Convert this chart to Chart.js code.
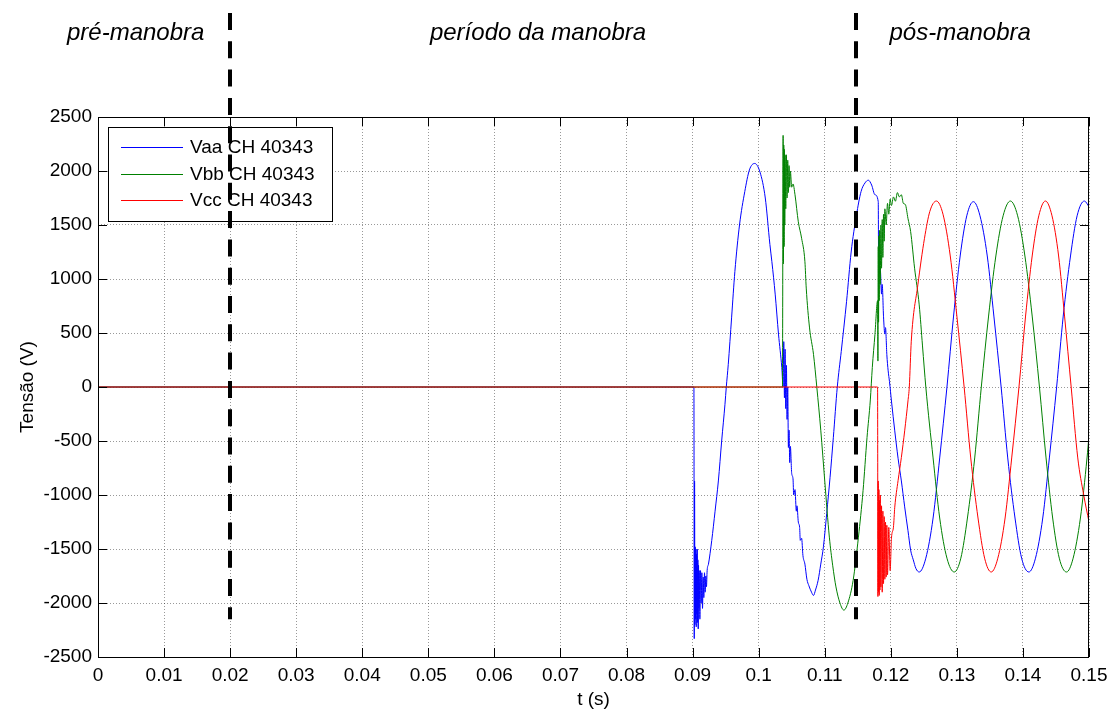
<!DOCTYPE html>
<html>
<head>
<meta charset="utf-8">
<script src="https://cdn.jsdelivr.net/npm/chart.js@4.4.0/dist/chart.umd.min.js"></script>
<style>
  html, body { margin: 0; padding: 0; background: #fff; }
  #wrap { width: 1108px; height: 711px; }
</style>
</head>
<body>
<div id="wrap"><canvas id="tensaoChart" width="1108" height="711"></canvas></div>
<script>
// tempo (s) / tensao (V)
var tVaa = [0, 0.0902, 0.09025, 0.0903, 0.09035, 0.0904, 0.09045, 0.0905, 0.09055, 0.0906, 0.09065, 0.0907, 0.09075, 0.0908, 0.09085, 0.0909, 0.09095, 0.0910, 0.0911, 0.0912, 0.0913, 0.0914, 0.0915, 0.0916, 0.0917, 0.0918, 0.0919, 0.0920, 0.0921, 0.0922, 0.0924, 0.0929, 0.0934, 0.0939, 0.0944, 0.0949, 0.0951, 0.0954, 0.0959, 0.0964, 0.0971, 0.0979, 0.0986, 0.0994, 0.1002, 0.1010, 0.1017, 0.1020, 0.1025, 0.1030, 0.1035, 0.1037, 0.1038, 0.1039, 0.1040, 0.1041, 0.1042, 0.1043, 0.1044, 0.1045, 0.1046, 0.1047, 0.1048, 0.1050, 0.1052, 0.1053, 0.1055, 0.1057, 0.1058, 0.1060, 0.1062, 0.1063, 0.1065, 0.1067, 0.1070, 0.1073, 0.1076, 0.1080, 0.1083, 0.1086, 0.1090, 0.1094, 0.1098, 0.1103, 0.1108, 0.1113, 0.1119, 0.1125, 0.1133, 0.1140, 0.1148, 0.1155, 0.1161, 0.1166, 0.1171, 0.1176, 0.1181, 0.11815, 0.1182, 0.1183, 0.1184, 0.1186, 0.1187, 0.1189, 0.1191, 0.1192, 0.1194, 0.1196, 0.1198, 0.1201, 0.1206, 0.1211, 0.1216, 0.1221, 0.1226, 0.1230, 0.1234, 0.1238, 0.1243, 0.1253, 0.1264, 0.1274, 0.1285, 0.1295, 0.1305, 0.1315, 0.1325, 0.1335, 0.1346, 0.1356, 0.1367, 0.1377, 0.1388, 0.1398, 0.1409, 0.1419, 0.1430, 0.1440, 0.1451, 0.1461, 0.1472, 0.1482, 0.1493, 0.1500];
var vVaa = [0, 0, -2330, -870, -2200, -1480, -2150, -1500, -2220, -1550, -2100, -1500, -2180, -1600, -2240, -1650, -2050, -1700, -2150, -1700, -2000, -1720, -2050, -1760, -1950, -1720, -1900, -1750, -1850, -1700, -1640, -1420, -1150, -870, -500, -160, 0, 210, 640, 1070, 1500, 1810, 2010, 2070, 1990, 1750, 1320, 1160, 860, 490, 180, 0, 420, -100, 350, -200, 200, -300, 0, -560, -400, -700, -550, -800, -850, -1000, -950, -1150, -1100, -1250, -1300, -1420, -1400, -1560, -1640, -1780, -1840, -1900, -1930, -1880, -1790, -1640, -1480, -1170, -840, -470, 0, 330, 790, 1250, 1590, 1810, 1890, 1915, 1870, 1780, 1716, 1200, 1350, 1050, 1100, 860, 950, 650, 490, 550, 300, 150, 50, -130, -406, -660, -870, -1110, -1330, -1510, -1600, -1680, -1713, -1585, -1213, -657, 0, 657, 1213, 1585, 1716, 1585, 1213, 657, 0, -657, -1213, -1585, -1713, -1585, -1213, -657, 0, 657, 1213, 1585, 1722, 1670];

var tVbb = [0, 0.1036, 0.1037, 0.10375, 0.1038, 0.10385, 0.1039, 0.10395, 0.1040, 0.1041, 0.1042, 0.1043, 0.1044, 0.1045, 0.1046, 0.1047, 0.1048, 0.1050, 0.1052, 0.1055, 0.1060, 0.1065, 0.1070, 0.1072, 0.1077, 0.1083, 0.1088, 0.1094, 0.1100, 0.1107, 0.1112, 0.1117, 0.1123, 0.1129, 0.1135, 0.1143, 0.1151, 0.1158, 0.1164, 0.1169, 0.1172, 0.1176, 0.1180, 0.11805, 0.1181, 0.11815, 0.1182, 0.11825, 0.1183, 0.1184, 0.1185, 0.1186, 0.1187, 0.1188, 0.1189, 0.1190, 0.1191, 0.1193, 0.1195, 0.1197, 0.1199, 0.1201, 0.1204, 0.1207, 0.1210, 0.1213, 0.1216, 0.1219, 0.1222, 0.1226, 0.1230, 0.1236, 0.1243, 0.1248, 0.1253, 0.1264, 0.1274, 0.1285, 0.1296, 0.1306, 0.1316, 0.1327, 0.1337, 0.1348, 0.1359, 0.1370, 0.1381, 0.1392, 0.1403, 0.1414, 0.1425, 0.1435, 0.1445, 0.1455, 0.1466, 0.1476, 0.1487, 0.1497, 0.1500];
var vVbb = [0, 0, 2330, 1140, 2240, 1300, 2200, 1500, 2150, 1650, 2150, 1750, 2100, 1800, 2050, 1850, 2000, 1850, 1880, 1780, 1530, 1377, 1160, 916, 547, 302, 0, -400, -867, -1390, -1650, -1851, -2000, -2066, -2000, -1790, -1390, -960, -468, -120, 180, 486, 800, 240, 1300, 600, 1400, 800, 1450, 950, 1500, 1100, 1550, 1200, 1600, 1350, 1650, 1500, 1700, 1600, 1740, 1680, 1760, 1720, 1800, 1760, 1780, 1700, 1690, 1560, 1440, 1100, 760, 380, 0, -657, -1213, -1585, -1713, -1585, -1213, -657, 0, 657, 1213, 1585, 1722, 1585, 1213, 657, 0, -657, -1213, -1585, -1713, -1585, -1213, -657, -450];

var tVcc = [0, 0.1180, 0.11805, 0.1181, 0.11815, 0.1182, 0.11825, 0.1183, 0.11835, 0.1184, 0.1185, 0.1186, 0.1187, 0.1188, 0.1189, 0.1190, 0.1191, 0.1192, 0.1193, 0.1194, 0.1195, 0.1197, 0.1199, 0.1201, 0.1204, 0.1206, 0.1211, 0.1216, 0.1221, 0.1226, 0.1228, 0.1231, 0.1241, 0.1251, 0.1259, 0.1269, 0.1279, 0.1290, 0.1300, 0.1311, 0.1321, 0.1332, 0.1342, 0.1352, 0.1362, 0.1373, 0.1383, 0.1394, 0.1404, 0.1414, 0.1424, 0.1434, 0.1444, 0.1454, 0.1463, 0.1473, 0.1483, 0.1492, 0.1500];
var vVcc = [0, 0, -1940, -870, -1900, -950, -1930, -1050, -1880, -1000, -1850, -1100, -1900, -1150, -1820, -1200, -1780, -1250, -1760, -1280, -1740, -1300, -1700, -1400, -1298, -1113, -867, -652, -406, -129, 0, 424, 947, 1377, 1624, 1722, 1600, 1213, 657, 0, -657, -1213, -1585, -1713, -1585, -1213, -657, 0, 657, 1213, 1585, 1722, 1585, 1213, 657, 0, -657, -1000, -1250];

var seriesLabels = ['Vaa CH 40343', 'Vbb CH 40343', 'Vcc CH 40343'];
var seriesColors = ['#0000ff', '#008000', '#ff0000'];
var xTicks = [0, 0.01, 0.02, 0.03, 0.04, 0.05, 0.06, 0.07, 0.08, 0.09, 0.1, 0.11, 0.12, 0.13, 0.14, 0.15];
var yTicks = [-2500, -2000, -1500, -1000, -500, 0, 500, 1000, 1500, 2000, 2500];
var phaseLabels = ['pré-manobra', 'período da manobra', 'pós-manobra'];
var phaseAt = [0.0057, 0.0666, 0.1305];
var switchTimes = [0.02, 0.1147];

var FONT = "'Liberation Sans', Arial, Helvetica, sans-serif";

function pts(t, v) {
    return t.map(function (x, i) { return { x: x, y: v[i] }; });
}

// legenda, linhas tracejadas e moldura estilo matlab
var matlabFrame = {
    id: 'matlabFrame',
    afterDraw: function (chart) {
        var ctx = chart.ctx, a = chart.chartArea;
        var xs = chart.scales.x, ys = chart.scales.y;
        ctx.save();

        // legenda
        var lx = a.left + 10, ly = a.top + 10;
        ctx.fillStyle = '#fff';
        ctx.fillRect(lx, ly, 224, 94);
        ctx.strokeStyle = '#000';
        ctx.lineWidth = 1;
        ctx.strokeRect(lx + 0.5, ly + 0.5, 224, 94);
        ctx.font = '19px ' + FONT;
        ctx.textBaseline = 'middle';
        ctx.textAlign = 'left';
        chart.data.datasets.forEach(function (ds, i) {
            var ry = Math.round(ly + 20 + i * 26.7) + 0.5;
            ctx.strokeStyle = ds.borderColor;
            ctx.beginPath();
            ctx.moveTo(lx + 13, ry);
            ctx.lineTo(lx + 75, ry);
            ctx.stroke();
            ctx.fillStyle = '#000';
            ctx.fillText(ds.label, lx + 82, ry);
        });

        // instantes de manobra
        ctx.strokeStyle = '#000';
        ctx.lineWidth = 4;
        ctx.setLineDash([17, 11.3]);
        switchTimes.forEach(function (t) {
            var px = Math.round(xs.getPixelForValue(t));
            ctx.beginPath();
            ctx.moveTo(px, 13);
            ctx.lineTo(px, ys.getPixelForValue(-2150));
            ctx.stroke();
        });
        ctx.setLineDash([]);

        // moldura com marcas internas
        ctx.lineWidth = 1;
        ctx.strokeStyle = '#000';
        ctx.strokeRect(a.left + 0.5, a.top + 0.5, a.right - a.left - 1, a.bottom - a.top);
        ctx.beginPath();
        xTicks.forEach(function (v) {
            var px = Math.round(xs.getPixelForValue(v)) + 0.5;
            ctx.moveTo(px, a.bottom); ctx.lineTo(px, a.bottom - 9);
            ctx.moveTo(px, a.top); ctx.lineTo(px, a.top + 9);
        });
        yTicks.forEach(function (v) {
            var py = Math.round(ys.getPixelForValue(v)) + 0.5;
            ctx.moveTo(a.left, py); ctx.lineTo(a.left + 9, py);
            ctx.moveTo(a.right, py); ctx.lineTo(a.right - 9, py);
        });
        ctx.stroke();

        // titulos dos periodos
        ctx.fillStyle = '#000';
        ctx.font = 'italic 24px ' + FONT;
        ctx.textAlign = 'center';
        ctx.textBaseline = 'alphabetic';
        phaseLabels.forEach(function (s, i) {
            ctx.fillText(s, xs.getPixelForValue(phaseAt[i]), 40);
        });
        ctx.restore();
    }
};

// order: vermelho por cima, como no matlab
var lineData = {
    datasets: [
        { label: seriesLabels[0], data: pts(tVaa, vVaa), borderColor: seriesColors[0], order: 3 },
        { label: seriesLabels[1], data: pts(tVbb, vVbb), borderColor: seriesColors[1], order: 2 },
        { label: seriesLabels[2], data: pts(tVcc, vVcc), borderColor: seriesColors[2], order: 1 }
    ]
};

var lineOptions = {
    responsive: false,
    animation: false,
    devicePixelRatio: 1,
    layout: { padding: { top: 117, right: 19, left: 0, bottom: 0 } },
    elements: {
        point: { radius: 0 },
        line: { borderWidth: 1, fill: false, cubicInterpolationMode: 'monotone' }
    },
    plugins: {
        legend: { display: false },
        title: { display: false },
        tooltip: { enabled: false }
    },
    scales: {
        x: {
            type: 'linear',
            min: 0,
            max: 0.15,
            afterBuildTicks: function (scale) {
                scale.ticks = xTicks.map(function (v) { return { value: v }; });
            },
            afterFit: function (scale) {
                scale.height = 54;
                scale.paddingLeft = 0;
                scale.paddingRight = 0;
            },
            ticks: {
                autoSkip: false,
                maxRotation: 0,
                padding: 7,
                color: '#000',
                font: { family: FONT, size: 19 },
                callback: function (v) { return String(Number(v.toFixed(2))); }
            },
            grid: { color: 'rgba(0,0,0,0.4)', drawTicks: false },
            border: { display: false, dash: [1, 2] },
            title: {
                display: true,
                text: 't (s)',
                color: '#000',
                font: { family: FONT, size: 19 },
                padding: { top: 0, bottom: 0 }
            }
        },
        y: {
            min: -2500,
            max: 2500,
            afterBuildTicks: function (scale) {
                scale.ticks = yTicks.map(function (v) { return { value: v }; });
            },
            afterFit: function (scale) {
                scale.width = 98;
                scale.paddingTop = 0;
                scale.paddingBottom = 0;
            },
            ticks: {
                padding: 6,
                color: '#000',
                font: { family: FONT, size: 19 },
                callback: function (v) { return String(v); }
            },
            grid: { color: 'rgba(0,0,0,0.4)', drawTicks: false },
            border: { display: false, dash: [1, 2] },
            title: {
                display: true,
                text: 'Tensão (V)',
                color: '#000',
                font: { family: FONT, size: 19 },
                padding: { top: 16, bottom: 0 }
            }
        }
    }
};

var tensaoChart = new Chart(document.getElementById('tensaoChart').getContext('2d'), {
    type: 'line',
    data: lineData,
    options: lineOptions,
    plugins: [matlabFrame]
});
</script>
</body>
</html>
